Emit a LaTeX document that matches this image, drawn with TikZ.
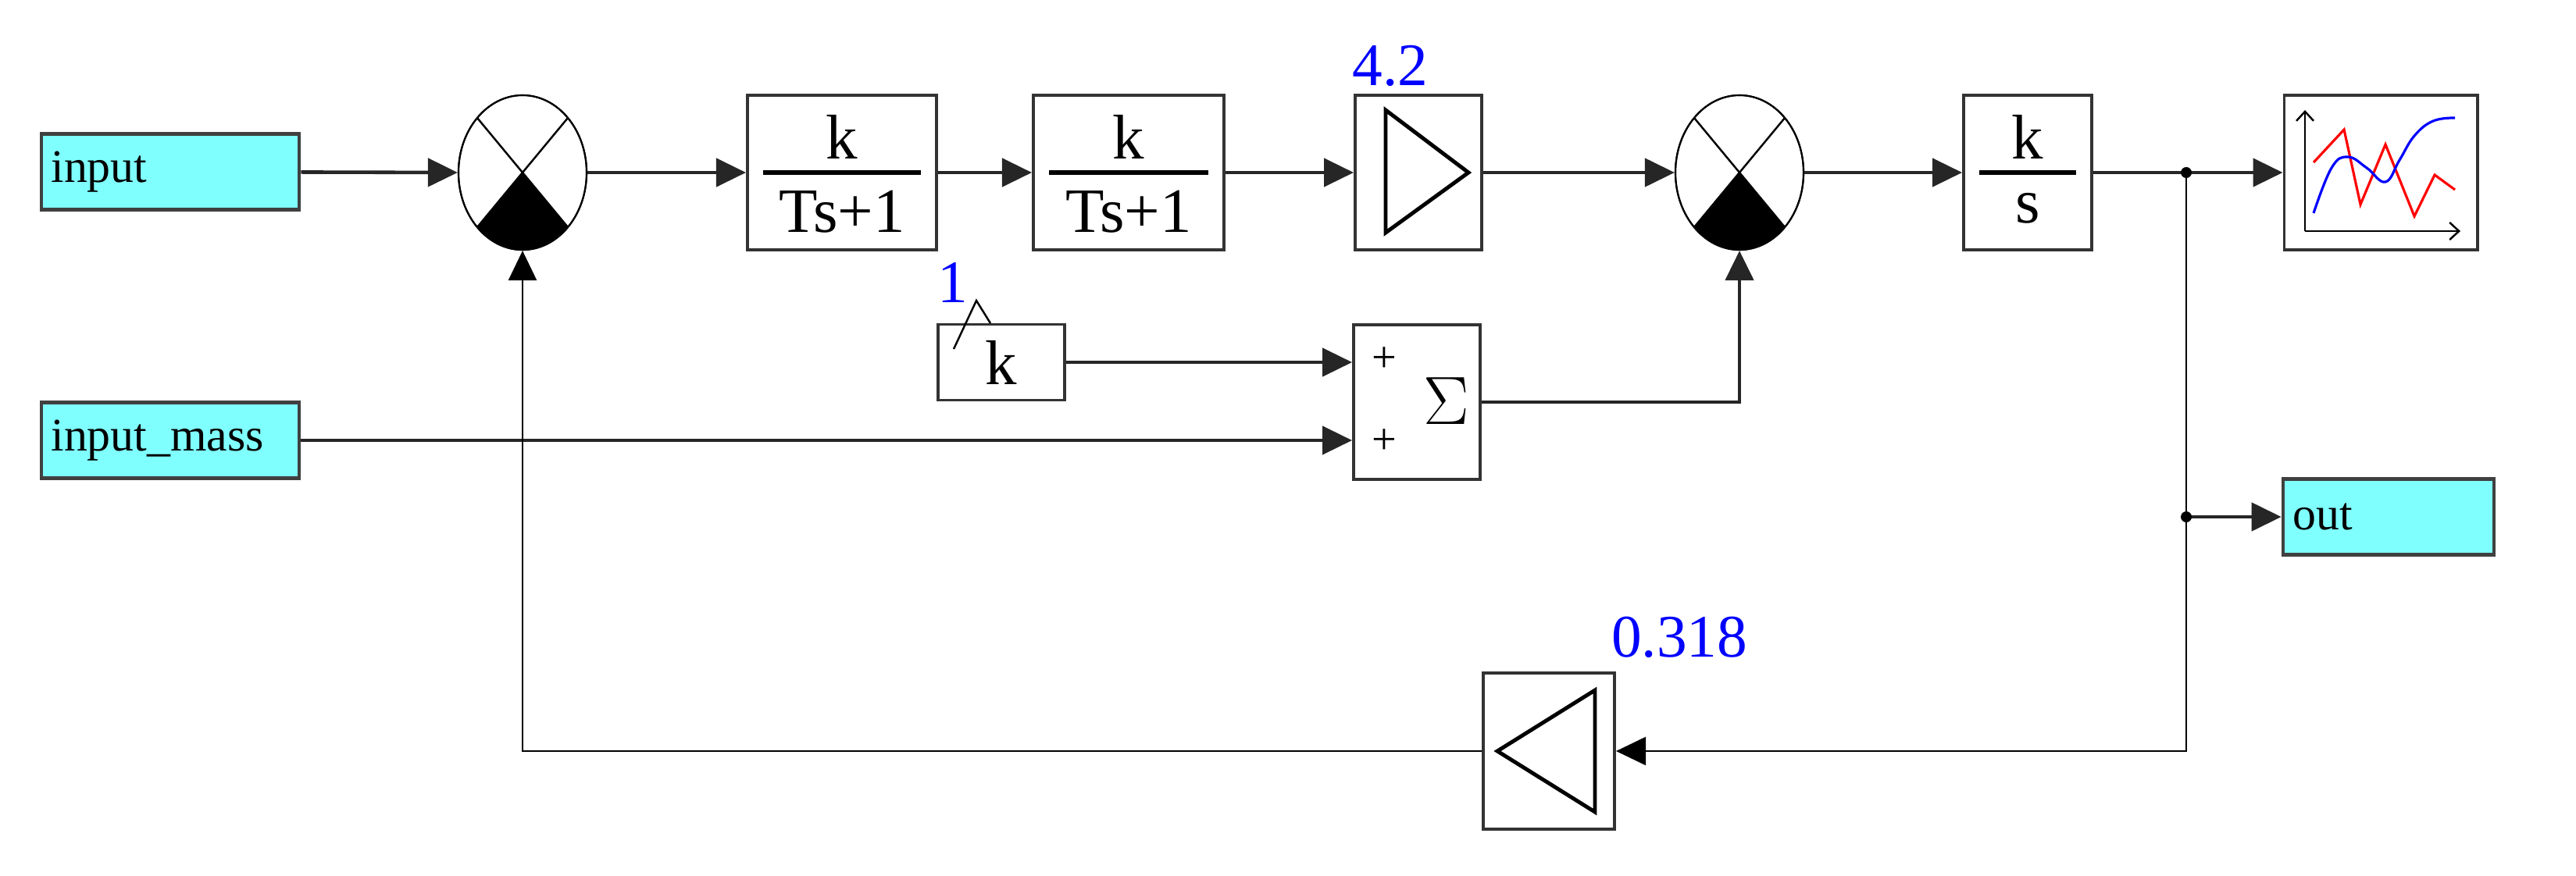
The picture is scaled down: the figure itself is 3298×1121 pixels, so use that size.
\documentclass[tikz,border=0pt]{standalone}
\usepackage{fontspec}
\setmainfont{Liberation Serif}
\usetikzlibrary{arrows.meta,shapes.geometric,calc}
\definecolor{aqua}{RGB}{128,255,255}
\begin{document}
\begin{tikzpicture}[x=0.01cm,y=-0.01cm,
  blk/.style={draw=black!80,line width=1.1pt,fill=white,inner sep=0pt},
  io/.style={draw=black!75,line width=1.3pt,fill=aqua,inner sep=0pt,minimum width=3.3cm,minimum height=0.97cm,
     font=\fontsize{17}{19}\selectfont,text width=3.05cm,align=left},
  sumn/.style={draw,ellipse,line width=0.6pt,minimum width=1.64cm,minimum height=1.98cm,inner sep=0pt},
  wire/.style={line width=1.3pt,draw=black!85},
  thin/.style={line width=0.7pt},
  arr/.style={-{Triangle[length=0.38cm,width=0.36cm]}},
  lbl/.style={font=\fontsize{23}{25}\selectfont},
  val/.style={font=\fontsize{22}{24}\selectfont,text=blue},
  dot/.style={circle,fill,inner sep=0pt,minimum size=0.14cm}]
\useasboundingbox (0,0) rectangle (3298,1121);
% blocks
\node[io] (in) at (218,220) {input};
\node[io] (im) at (218,564) {input\_mass};
\node[io,minimum width=2.7cm,text width=2.45cm] (out) at (3058,662) {out};
\node[sumn] (s1) at (669,221) {};
\node[sumn] (s2) at (2227,221) {};
\node[blk,minimum width=2.42cm,minimum height=1.98cm] (b1) at (1078,221) {};
\node[blk,minimum width=2.44cm,minimum height=1.98cm] (b2) at (1445,221) {};
\node[blk,minimum width=1.62cm,minimum height=1.98cm] (g1) at (1816,221) {};
\node[blk,minimum width=1.64cm,minimum height=1.98cm] (ks) at (2596,221) {};
\node[blk,minimum width=2.47cm,minimum height=1.98cm] (sc) at (3048,221) {};
\node[blk,minimum width=1.62cm,minimum height=0.97cm] (kb) at (1282,464) {};
\node[blk,minimum width=1.62cm,minimum height=1.98cm] (sg) at (1814,515) {};
\node[blk,minimum width=1.68cm,minimum height=2.0cm] (fb) at (1983,962) {};
% sum symbols
\foreach \s in {s1,s2}{
  \fill ($(\s.center)+(-58,70)$) -- (\s.center) -- ($(\s.center)+(58,70)$) arc[start angle=45,end angle=135,x radius=82,y radius=99] -- cycle;
  \draw[thin] ($(\s.center)+(-58,-70)$) -- ($(\s.center)+(58,70)$);
  \draw[thin] ($(\s.center)+(58,-70)$) -- ($(\s.center)+(-58,70)$);
  \draw[line width=0.6pt] (\s.center) ellipse[x radius=82,y radius=99];
}
% transfer functions
\foreach \b in {b1,b2}{
  \draw[line width=1.6pt] ($(\b.west)+(22,0)$) -- ($(\b.east)+(-22,0)$);
  \node[lbl] at ($(\b.center)+(0,-46)$) {k};
  \node[lbl] at ($(\b.center)+(0,50)$) {Ts+1};
}
\draw[line width=1.6pt] ($(ks.west)+(22,0)$) -- ($(ks.east)+(-22,0)$);
\node[lbl] at ($(ks.center)+(0,-46)$) {k};
\node[lbl] at ($(ks.center)+(0,46)$) {s};
\node[lbl] at (kb.center) {k};
% gains
\draw[line width=1.4pt] (1774,141) -- (1880,221) -- (1774,298) -- cycle;
\draw[line width=1.4pt] (2042,884) -- (1917,962) -- (2042,1040) -- cycle;
\node[val] at (1780,84) {4.2};
\node[val] at (2150,816) {0.318};
\node[val] at (1220,362) {1};
\draw[thin] (1221,447) -- (1250,385) -- (1268,414);
% summation
\node[font=\fontsize{16}{17}\selectfont] at (1772,461) {+};
\node[font=\fontsize{16}{17}\selectfont] at (1772,566) {+};
\node[font=\fontsize{52}{54}\selectfont] at (1852,514) {$\Sigma$};
% scope
\draw[thin,-{Straight Barb[length=0.12cm,width=0.22cm]}] (2951,296) -- (2951,141);
\draw[thin,-{Straight Barb[length=0.12cm,width=0.22cm]}] (2951,296) -- (3150,296);
\draw[red,line width=0.9pt] (2962,208) -- (3001,166) -- (3022,262) -- (3054,185) -- (3091,277) -- (3117,224) -- (3143,243);
\draw[blue,line width=0.9pt] plot[smooth,tension=0.7] coordinates {(2962,273) (2985,215) (3006,201) (3030,215) (3054,233) (3072,205) (3091,174) (3115,155) (3143,151)};
% wires
\coordinate (j1) at (2799,221);
\coordinate (j2) at (2799,662);
\draw[wire,arr] (in) -- (s1.west);
\draw[wire,arr] (s1.east) -- (b1.west);
\draw[wire,arr] (b1) -- (b2);
\draw[wire,arr] (b2) -- (g1);
\draw[wire,arr] (g1) -- (s2.west);
\draw[wire,arr] (s2.east) -- (ks.west);
\draw[wire] (ks.east) -- (j1);
\draw[wire,arr] (j1) -- (sc.west);
\draw[wire,arr] (j2) -- (out.west);
\draw[wire,arr] (kb.east) -- (sg.west |- kb.east);
\draw[wire,arr] (im.east) -- (sg.west |- im.east);
\draw[wire,arr] (sg.east) -| (s2.south);
\draw[thin,arr] (j1) |- (fb.east);
\draw[thin,arr] (fb.west) -| (s1.south);
\node[dot] at (j1) {};
\node[dot] at (j2) {};
\end{tikzpicture}
\end{document}
